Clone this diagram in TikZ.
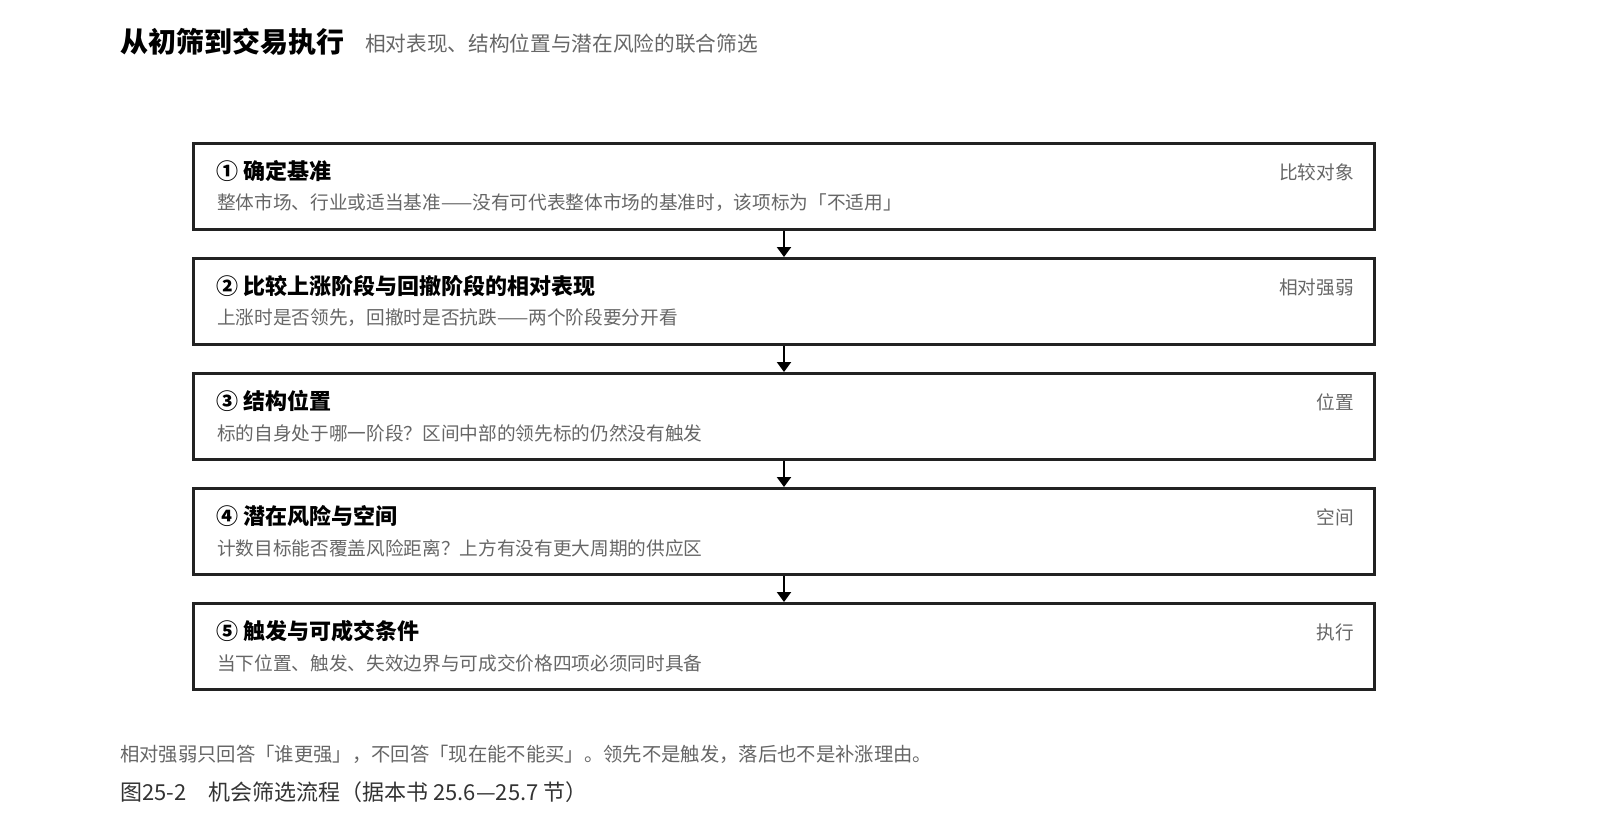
\documentclass[tikz,border=0pt]{standalone}
\usepackage{fontspec}
\setmainfont{Noto Sans CJK SC}
\usetikzlibrary{arrows.meta,positioning}

\definecolor{boxline}{HTML}{222222}
\definecolor{notegray}{HTML}{666666}
\definecolor{capgray}{HTML}{333333}

\begin{document}
\begin{tikzpicture}[
    x=0.75pt, y=-0.75pt,
    stepbox/.style={draw=boxline, line width=2.2pt, minimum width=885.75pt,
      minimum height=64.5pt, inner sep=0pt},
    steptitle/.style={anchor=west, inner sep=0pt, text=black,
      font=\fontsize{16.5}{19}\selectfont\bfseries},
    stepnote/.style={anchor=west, inner sep=0pt, text=notegray,
      font=\fontsize{14}{16}\selectfont},
    steptag/.style={anchor=east, inner sep=0pt, text=notegray,
      font=\fontsize{14}{16}\selectfont},
    flow/.style={draw=black, line width=1.5pt,
      -{Triangle[width=10.5pt,length=7.5pt]}}
  ]

    % Canvas
    \useasboundingbox (0,0) rectangle (1600,836);

    % Title
    \node[anchor=west, inner sep=0pt, font=\fontsize{21}{24}\selectfont\bfseries]
      (title) at (120,42) {从初筛到交易执行};
    \node[anchor=west, inner sep=0pt, text=notegray, font=\fontsize{15.5}{18}\selectfont]
      (subtitle) at (365,44) {相对表现、结构位置与潜在风险的联合筛选};

    % Step boxes
    \node[stepbox] (benchmark) at (784,186.5) {};
    \node[stepbox] (strength) at (784,301.5) {};
    \node[stepbox] (structure) at (784,416.5) {};
    \node[stepbox] (risk) at (784,531.5) {};
    \node[stepbox] (trigger) at (784,646.5) {};

    % Step texts
    \node[steptitle] (benchmarkT) at (216,171) {① 确定基准};
    \node[stepnote] (benchmarkN) at (217,203)
      {整体市场、行业或适当基准——没有可代表整体市场的基准时，该项标为「不适用」};
    \node[steptag] (benchmarkG) at (1354,172) {比较对象};

    \node[steptitle] (strengthT) at (216,286) {② 比较上涨阶段与回撤阶段的相对表现};
    \node[stepnote] (strengthN) at (217,318)
      {上涨时是否领先，回撤时是否抗跌——两个阶段要分开看};
    \node[steptag] (strengthG) at (1354,287) {相对强弱};

    \node[steptitle] (structureT) at (216,401) {③ 结构位置};
    \node[stepnote] (structureN) at (217,433)
      {标的自身处于哪一阶段？区间中部的领先标的仍然没有触发};
    \node[steptag] (structureG) at (1354,402) {位置};

    \node[steptitle] (riskT) at (216,516) {④ 潜在风险与空间};
    \node[stepnote] (riskN) at (217,548)
      {计数目标能否覆盖风险距离？上方有没有更大周期的供应区};
    \node[steptag] (riskG) at (1354,517) {空间};

    \node[steptitle] (triggerT) at (216,631) {⑤ 触发与可成交条件};
    \node[stepnote] (triggerN) at (217,663)
      {当下位置、触发、失效边界与可成交价格四项必须同时具备};
    \node[steptag] (triggerG) at (1354,632) {执行};

    % Flow arrows
    \draw[flow] (benchmark.south) -- (strength.north);
    \draw[flow] (strength.south) -- (structure.north);
    \draw[flow] (structure.south) -- (risk.north);
    \draw[flow] (risk.south) -- (trigger.north);

    % Note and caption
    \node[anchor=west, inner sep=0pt, text=notegray, font=\fontsize{14.5}{17}\selectfont]
      (note) at (120,754)
      {相对强弱只回答「谁更强」，不回答「现在能不能买」。领先不是触发，落后也不是补涨理由。};
    \node[anchor=west, inner sep=0pt, text=capgray, font=\fontsize{16.5}{19}\selectfont]
      (caption) at (120,792) {图25-2　机会筛选流程（据本书 25.6—25.7 节）};

  \end{tikzpicture}
\end{document}
